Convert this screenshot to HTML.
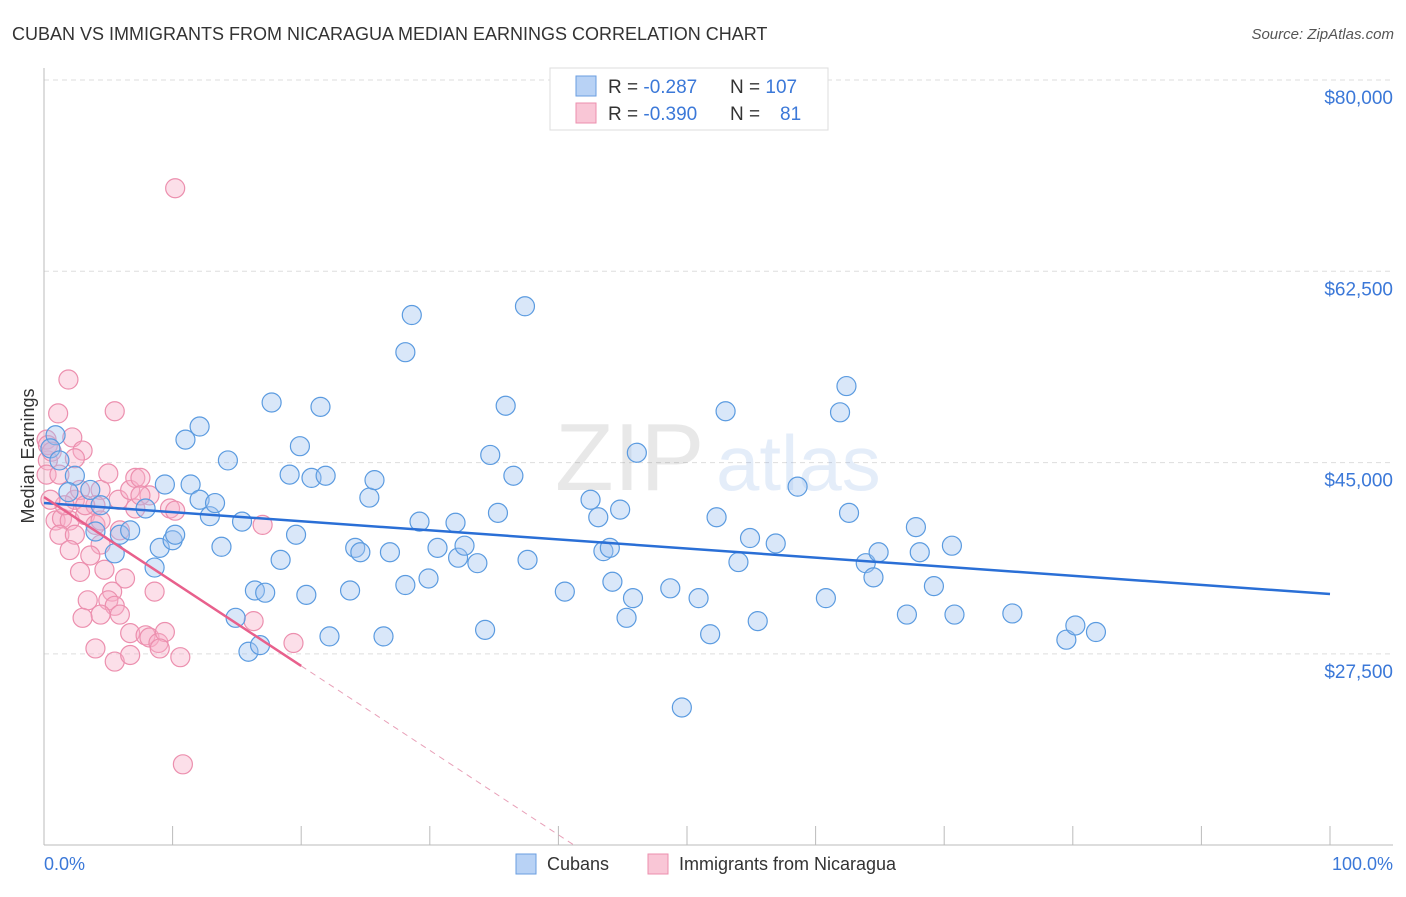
<!DOCTYPE html>
<html><head><meta charset="utf-8"><style>
body{margin:0;background:#fff;font-family:"Liberation Sans",sans-serif}
svg text{font-family:"Liberation Sans",sans-serif}
</style></head><body>
<svg id="chart" width="1406" height="892" viewBox="0 0 1406 892" xmlns="http://www.w3.org/2000/svg">
<text x="12" y="40" font-size="18" fill="#333">CUBAN VS IMMIGRANTS FROM NICARAGUA MEDIAN EARNINGS CORRELATION CHART</text>
<text x="1394" y="39" font-size="15" fill="#555" font-style="italic" text-anchor="end">Source: ZipAtlas.com</text>
<g id="grid"></g>
<g opacity="0.13">
<text x="555" y="490" font-size="96" font-family="Liberation Serif" fill="#555">ZIP</text>
<text x="716" y="490" font-size="78" fill="#3b78d8">atlas</text>
</g>
<line x1="44" y1="68" x2="44" y2="845" stroke="#bbb"/>
<line x1="44" y1="845" x2="1393" y2="845" stroke="#bbb"/>
<g id="xticks"></g>
<g id="ylabels"></g>
<text transform="translate(34,456) rotate(-90)" font-size="18" fill="#333" text-anchor="middle">Median Earnings</text>
<text x="44" y="870" font-size="18" fill="#3b78d8">0.0%</text>
<text x="1393" y="870" font-size="18" fill="#3b78d8" text-anchor="end">100.0%</text>
<g id="pink"></g>
<g id="blue"></g>
<g id="trends"></g>
<g>
<rect x="550" y="68" width="278" height="62" fill="#fff" stroke="#ddd"/>
<rect x="576" y="76" width="20" height="20" fill="#b8d2f5" stroke="#6a9ee0"/>
<rect x="576" y="103" width="20" height="20" fill="#f9c6d6" stroke="#ec8fae"/>
<text x="608" y="93" font-size="19" fill="#333">R = <tspan fill="#3b78d8">-0.287</tspan><tspan x="730">N = </tspan><tspan fill="#3b78d8">107</tspan></text>
<text x="608" y="120" font-size="19" fill="#333">R = <tspan fill="#3b78d8">-0.390</tspan><tspan x="730">N = </tspan><tspan x="780" fill="#3b78d8">81</tspan></text>
</g>
<g>
<rect x="516" y="854" width="20" height="20" fill="#b8d2f5" stroke="#6a9ee0"/>
<text x="547" y="870" font-size="18" fill="#333">Cubans</text>
<rect x="648" y="854" width="20" height="20" fill="#f9c6d6" stroke="#ec8fae"/>
<text x="679" y="870" font-size="18" fill="#333">Immigrants from Nicaragua</text>
</g>
</svg>
<script>
const yTicks=[80000,62500,45000,27500];
const yTickLabels=["$80,000","$62,500","$45,000","$27,500"];
const xTicks=[10,20,30,40,50,60,70,80,90,100];
const cubanX=[0.9,0.5,1.2,2.4,1.9,3.6,4.4,4.0,5.5,5.9,6.7,7.9,8.6,9.0,9.4,10.0,10.2,11.0,11.4,12.1,12.1,12.9,13.3,13.8,14.3,14.9,15.4,15.9,16.4,16.8,17.2,17.7,18.4,19.1,19.6,19.9,20.4,20.8,21.5,21.9,22.2,23.8,24.2,24.6,25.3,25.7,26.4,26.9,28.1,28.1,28.6,29.2,29.9,30.6,32.0,32.2,32.7,33.7,34.3,34.7,35.3,35.9,36.5,37.4,37.6,40.5,42.5,43.1,43.5,44.0,44.2,44.8,45.3,45.8,46.1,48.7,49.6,50.9,51.8,52.3,53.0,54.0,54.9,55.5,56.9,58.6,60.8,61.9,62.4,62.6,63.9,64.5,64.9,67.1,67.8,68.1,69.2,70.6,70.8,75.3,79.5,80.2,81.8];
const cubanY=[47500,46300,45200,43800,42300,42500,41100,38700,36700,38400,38800,40800,35400,37200,43000,37900,38400,47100,43000,48300,41600,40100,41300,37300,45200,30800,39600,27700,33300,28300,33100,50500,36100,43900,38400,46500,32900,43600,50100,43800,29100,33300,37200,36800,41800,43400,29100,36800,33800,55100,58500,39600,34400,37200,39500,36300,37400,35800,29700,45700,40400,50200,43800,59300,36100,33200,41600,40000,36900,37200,34100,40700,30800,32600,45900,33500,22600,32600,29300,40000,49700,35900,38100,30500,37600,42800,32600,49600,52000,40400,35800,34500,36800,31100,39100,36800,33700,37400,31100,31200,28800,30100,29500];
const nicX=[10.2,1.9,1.1,5.5,2.2,3.0,2.4,0.2,0.3,0.2,1.2,2.4,2.8,4.4,5.0,5.8,6.7,7.1,8.2,9.8,7.1,7.5,0.9,1.4,2.0,3.2,4.0,1.2,2.4,4.4,2.0,3.6,2.8,4.7,3.4,6.3,8.6,5.3,5.0,5.5,5.9,4.4,3.0,6.7,7.9,8.2,8.9,9.4,4.0,5.5,6.7,9.0,10.6,10.8,17.0,16.3,19.4,10.2,7.5,1.6,0.5,4.0,4.4,5.9,3.2,0.3,0.6];
const nicY=[70100,52600,49500,49700,47300,46100,45400,47100,45200,43900,43900,41600,42500,42500,44000,41600,42500,40800,42000,40800,43600,43600,39700,39900,39700,40200,39300,38400,38400,37500,37000,36500,35000,35200,32400,34400,33200,33200,32400,31900,31100,31100,30800,29400,29200,29000,28500,29500,28000,26800,27400,28000,27200,17400,39300,30500,28500,40600,42000,41100,41600,41100,39700,38800,41100,46600,46000];
const cubanTrend=[41300,32980];
const nicTrend=[41850,26400];
const nicTrendEndX=20, nicDashEndX=41.2;
const NS="http://www.w3.org/2000/svg";
const X0=44,X1=1330,Y80=80,PX_PER=191.3/17500;
const sx=v=>X0+(X1-X0)*v/100;
const sy=v=>Y80+(80000-v)*PX_PER;
function mk(tag,attrs,parent){const e=document.createElementNS(NS,tag);for(const k in attrs)e.setAttribute(k,attrs[k]);parent.appendChild(e);return e;}
const grid=document.getElementById('grid');
yTicks.forEach((t,i)=>{
 const l=mk('line',{x1:X0,x2:1393,y1:sy(t),y2:sy(t),stroke:'#ddd','stroke-dasharray':'5,4'},grid);
 
 
 const tx=mk('text',{x:1393,y:sy(t)+24,'font-size':19,fill:'#3b78d8','text-anchor':'end'},document.getElementById('ylabels'));
 tx.textContent=yTickLabels[i];
 
 
});
xTicks.forEach(t=>{
 const l=mk('line',{x1:sx(t),x2:sx(t),y1:826,y2:845,stroke:'#bbb'},document.getElementById('xticks'));
 
 
});
const pg=document.getElementById('pink');
nicX.forEach((x,i)=>{
 const c=mk('circle',{cx:sx(x),cy:sy(nicY[i]),r:9.5,fill:'rgba(248,176,200,0.4)',stroke:'#ec8fae','stroke-width':1.2},pg);
 
 
});
const bg=document.getElementById('blue');
cubanX.forEach((x,i)=>{
 const c=mk('circle',{cx:sx(x),cy:sy(cubanY[i]),r:9.5,fill:'rgba(160,196,240,0.4)',stroke:'#5b9be0','stroke-width':1.2},bg);
 
 
});
const tg=document.getElementById('trends');
const bl=mk('line',{x1:sx(0),y1:sy(cubanTrend[0]),x2:sx(100),y2:sy(cubanTrend[1]),stroke:'#2a6fd6','stroke-width':2.5},tg);


const slope=(nicTrend[1]-nicTrend[0])/nicTrendEndX;
const pl=mk('line',{x1:sx(0),y1:sy(nicTrend[0]),x2:sx(nicTrendEndX),y2:sy(nicTrend[1]),stroke:'#e8608c','stroke-width':2.5},tg);


const pd=mk('line',{x1:sx(nicTrendEndX),y1:sy(nicTrend[1]),x2:sx(nicDashEndX),y2:sy(nicTrend[0]+slope*nicDashEndX),stroke:'#e8a0b8','stroke-width':1,'stroke-dasharray':'6,5'},tg);


</script>
</body></html>
